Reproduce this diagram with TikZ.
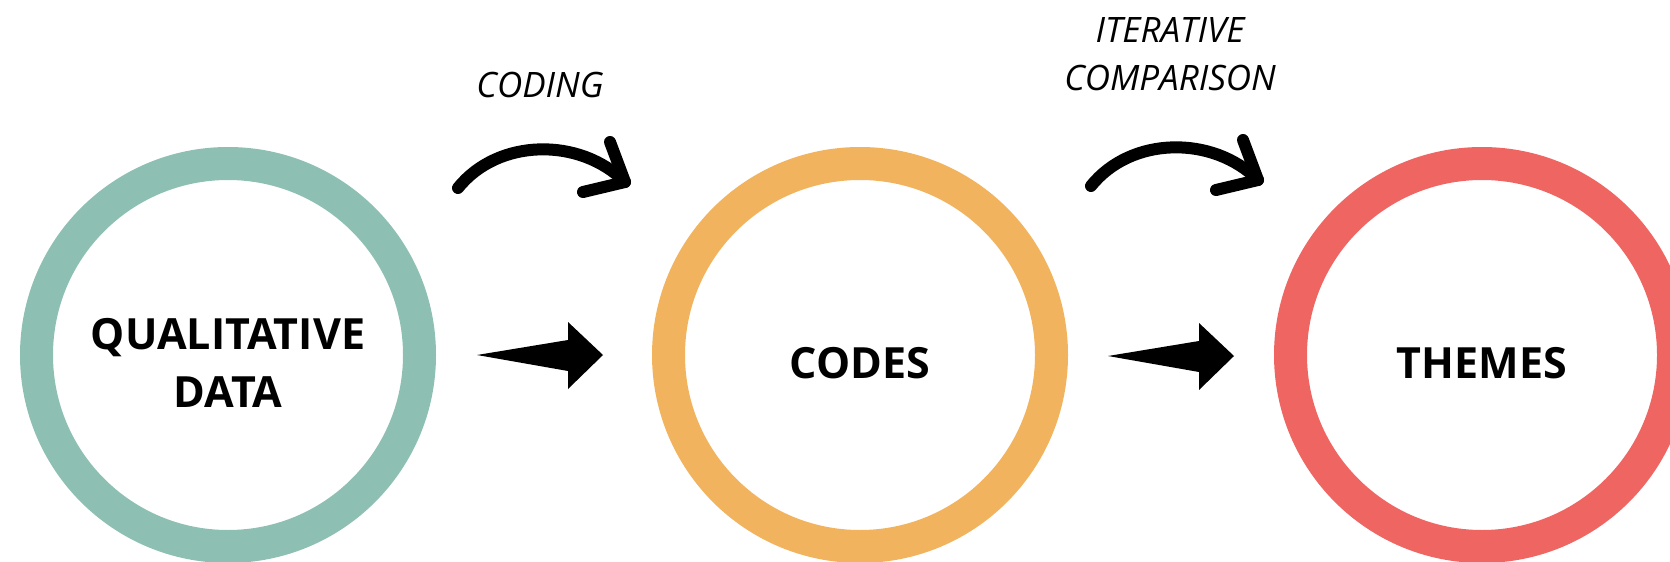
\documentclass[tikz,border=0pt]{standalone}
\usepackage{fontspec}
\setmainfont{Open Sans}
\usetikzlibrary{calc}

\definecolor{ringteal}{HTML}{8DBFB3}
\definecolor{ringorange}{HTML}{F1B35E}
\definecolor{ringred}{HTML}{EF6562}

\tikzset{
  ring/.style={circle, draw=#1, line width=16.5pt, minimum size=191.5pt, inner sep=0pt, fill=none},
  title/.style={font=\bfseries\fontsize{21.5}{29}\selectfont, align=center, inner sep=0pt},
  steplabel/.style={font=\itshape\fontsize{17.5}{24}\selectfont, align=center, inner sep=0pt},
  hookarrow/.style={line width=6pt, line cap=round, line join=round},
  fatarrow/.style={fill=black, to path={
      -- ($(\tikztotarget)+(-35,-15)$) -- ($(\tikztotarget)+(-35,-33)$)
      -- (\tikztotarget)
      -- ($(\tikztotarget)+(-35,34)$) -- ($(\tikztotarget)+(-35,16)$) -- cycle}}
}

\begin{document}
\begin{tikzpicture}[x=0.5pt, y=-0.5pt]
  \useasboundingbox (0,0) rectangle (1670,562);

  % the three stages
  \node[ring=ringteal]   (data)   at (228,355)  {};
  \node[ring=ringorange] (codes)  at (860,355)  {};
  \node[ring=ringred]    (themes) at (1482,355) {};

  \node[title] (datatext)   at ([yshift=-4pt]data.center)   {QUALITATIVE\\DATA};
  \node[title] (codestext)  at ([yshift=-4pt]codes.center)  {CODES};
  \node[title] (themestext) at ([yshift=-4pt]themes.center) {THEMES};

  % tapered arrows between the stages
  \coordinate (s1) at ($(data.center)+(249,0)$);
  \coordinate (e1) at ($(codes.center)+(-257,0)$);
  \coordinate (s2) at ($(codes.center)+(248,1)$);
  \coordinate (e2) at ($(themes.center)+(-248,1)$);
  \path[fatarrow] (s1) to (e1);
  \path[fatarrow] (s2) to (e2);

  % curved arrows with their labels
  \coordinate (c1s) at (458,188);
  \coordinate (c1e) at (625,182);
  \coordinate (c2s) at (1091,186);
  \coordinate (c2e) at (1258,180);

  \draw[hookarrow] (c1s) .. controls ($(c1s)+(40,-50)$) and ($(c1e)+(-45,-45)$) .. (c1e);
  \draw[hookarrow] ($(c1e)+(-15,-40)$) -- (c1e) -- ($(c1e)+(-42,10)$);
  \draw[hookarrow] (c2s) .. controls ($(c2s)+(40,-50)$) and ($(c2e)+(-45,-45)$) .. (c2e);
  \draw[hookarrow] ($(c2e)+(-15,-40)$) -- (c2e) -- ($(c2e)+(-42,10)$);

  \node[steplabel, anchor=base] (coding) at (540,97) {CODING};
  \node[steplabel, anchor=base] (iter) at (1170,90) {ITERATIVE\\COMPARISON};
\end{tikzpicture}
\end{document}
